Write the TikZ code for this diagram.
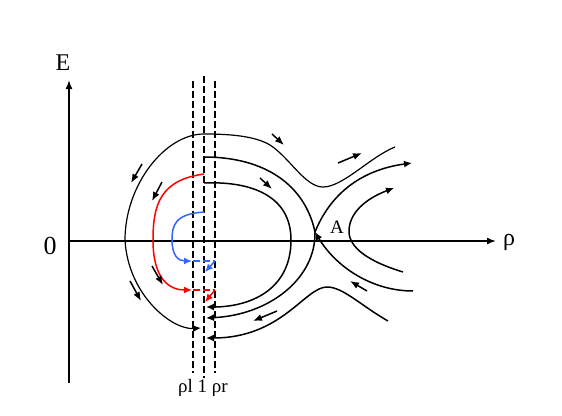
\documentclass[tikz,border=0pt]{standalone}
\usepackage{fontspec}
\setmainfont{Liberation Serif}
\usetikzlibrary{arrows.meta}

\begin{document}
\begin{tikzpicture}[x=1pt,y=-1pt,
    curve/.style={line width=1.5pt,line join=round},
    arr/.style={curve,-{Latex[length=8pt,width=7pt]}},
    flow/.style={line width=1.5pt,-{Latex[length=9pt,width=7pt]}},
    guide/.style={line width=1.9pt,dash pattern=on 7pt off 3pt},
    axis/.style={line width=1.5pt,-{Latex[length=9pt,width=7pt]}},
    lbl/.style={inner sep=0pt,font=\fontsize{19}{21}\selectfont},
    big/.style={inner sep=0pt,font=\fontsize{24}{26}\selectfont}
]
\useasboundingbox (0,0) rectangle (562,415);
\definecolor{redline}{RGB}{255,0,0}
\definecolor{blueline}{RGB}{51,102,255}

% axes
\coordinate (orig) at (69,241);
\draw[axis] (69,383) -- (69,80);
\draw[axis] (orig) -- (496,241);
\node[big] (elbl)  at (63,63)  {E};
\node[big] (rholbl) at (509,242) {ρ};
\node[big,font=\fontsize{26}{28}\selectfont] (zero) at (50,246) {0};

% dashed lines rho_l, 1, rho_r
\draw[guide] (193,81) -- (193,373);
\draw[guide] (204,76) -- (204,378);
\draw[guide] (215,81) -- (215,373);
\node[lbl] (rholab) at (203,388) {ρl 1 ρr};

% saddle point
\coordinate (A) at (315,232);
\node[lbl] (alab) at (337,227) {A};

% outer orbit
\draw[arr,line width=1.2pt] (395,147) .. controls (370,157) and (343,187) .. (323,187)
  .. controls (305,187) and (290,158) .. (270,145)
  .. controls (255,136) and (230,134) .. (204,134)
  .. controls (165,134) and (125,185) .. (125,240)
  .. controls (128,295) and (172,330) .. (201,328);

% separatrix loop through A
\draw[curve] (204,157) .. controls (265,157) and (305,185) .. (A);
\draw[arr] (A) .. controls (316,278) and (270,315) .. (206,318);
\draw[arr] (413,291) .. controls (372,291) and (336,267) .. (A);
\draw[arr] (A) .. controls (330,195) and (360,170) .. (412,163);

% inner orbit
\draw[arr] (204,183) .. controls (250,181) and (291,195) .. (291,240)
  .. controls (291,290) and (250,307) .. (206,307);

% lower branch
\draw[arr] (388,321) .. controls (360,305) and (343,287) .. (327,287)
  .. controls (305,287) and (282,338) .. (206,338);

% right branch
\draw[arr] (403,272) .. controls (370,262) and (348,248) .. (349,230)
  .. controls (350,210) and (370,197) .. (394,188);

% red path
\draw[arr,redline] (204,174) .. controls (160,180) and (153,205) .. (153,240)
  .. controls (153,280) and (170,290) .. (192,290);
\draw[curve,redline,dash pattern=on 7pt off 3pt] (193,290) -- (215,290);
\draw[arr,redline] (215,290) -- (205,302);

% blue path
\draw[arr,blueline] (204,212) .. controls (175,214) and (172,225) .. (172,240)
  .. controls (172,255) and (178,261) .. (192,261);
\draw[curve,blueline,dash pattern=on 7pt off 3pt] (193,261) -- (215,261);
\draw[arr,blueline] (215,261) -- (205,272);

% flow direction arrows
\draw[flow] (142,164) -- (131,183);
\draw[flow] (162,182) -- (152,201);
\draw[flow] (152,266) -- (163,285);
\draw[flow] (130,281) -- (141,301);
\draw[flow] (272,134) -- (284,145);
\draw[flow] (260,178) -- (272,189);
\draw[flow] (338,163) -- (362,153);
\draw[flow] (367,291) -- (350,281);
\draw[flow] (277,311) -- (253,321);
\end{tikzpicture}
\end{document}
